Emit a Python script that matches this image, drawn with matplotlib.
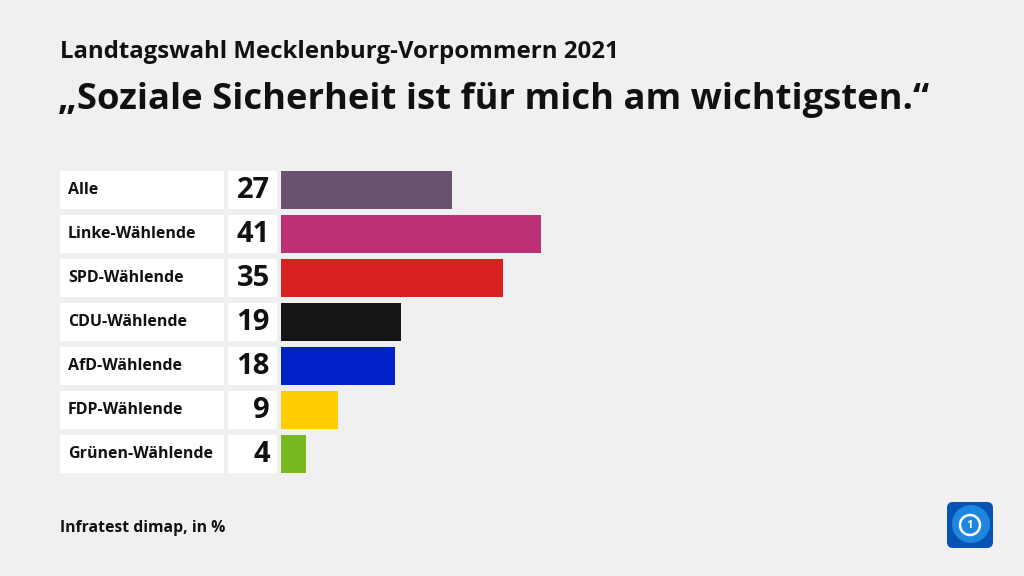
import matplotlib.pyplot as plt
from matplotlib.patches import Rectangle, FancyBboxPatch, Circle

plt.rcParams['font.family'] = ['Open Sans', 'DejaVu Sans']

# Daten
groups = ["Alle", "Linke-Wählende", "SPD-Wählende", "CDU-Wählende",
          "AfD-Wählende", "FDP-Wählende", "Grünen-Wählende"]
values = [27, 41, 35, 19, 18, 9, 4]
colors = ["#695270", "#be3075", "#d9201f", "#151515", "#0021c8", "#ffcc00", "#78b922"]

title = "Landtagswahl Mecklenburg-Vorpommern 2021"
subtitle = "„Soziale Sicherheit ist für mich am wichtigsten.“"
source = "Infratest dimap, in %"

W, H = 1024, 576
bg = "#f0f0f0"
fig = plt.figure(figsize=(W / 100, H / 100), dpi=100, facecolor=bg)

# Achse für die Balken: x in Prozent, y in Pixeln von oben
x0 = 281
px_per_unit = 6.33
ax = fig.add_axes([x0 / W, 0, (W - x0) / W, 1])
ax.set_xlim(0, (W - x0) / px_per_unit)
ax.set_ylim(H, 0)
ax.axis("off")

def px(xpix):
    return (xpix - x0) / px_per_unit

row_y = [190 + 44 * i for i in range(len(groups))]
bar_h = 38

ax.barh(row_y, values, height=bar_h, color=colors, left=0)

for y, g, v in zip(row_y, groups, values):
    ax.add_patch(Rectangle((px(60), y - bar_h / 2), px(224) - px(60), bar_h,
                           facecolor="white", edgecolor="none", clip_on=False))
    ax.add_patch(Rectangle((px(228), y - bar_h / 2), px(277) - px(228), bar_h,
                           facecolor="white", edgecolor="none", clip_on=False))
    ax.text(px(68), y, g, ha="left", va="center", fontsize=11.5,
            fontweight="bold", color="#111111", clip_on=False)
    ax.text(px(270), y + 1, str(v), ha="right", va="center", fontsize=21,
            fontweight="bold", color="#111111", clip_on=False)

fig.text(60 / W, 1 - 52 / H, title, ha="left", va="center",
         fontsize=17.3, fontweight="bold", color="#111111")
fig.text(58 / W, 1 - 100 / H, subtitle, ha="left", va="center",
         fontsize=26.2, fontweight="bold", color="#111111")
fig.text(60 / W, 1 - 528 / H, source, ha="left", va="center",
         fontsize=11.3, fontweight="bold", color="#111111")

# Logo unten rechts
logo_ax = fig.add_axes([945 / W, 1 - 550 / H, 50 / W, 50 / H])
logo_ax.set_xlim(0, 1)
logo_ax.set_ylim(0, 1)
logo_ax.axis("off")
logo_ax.add_patch(FancyBboxPatch((0.04, 0.04), 0.92, 0.92,
                                 boxstyle="round,pad=0,rounding_size=0.12",
                                 facecolor="#0653b3", edgecolor="none"))
logo_ax.add_patch(Circle((0.52, 0.52), 0.38, facecolor="#1f86e0", edgecolor="none"))
logo_ax.add_patch(Circle((0.5, 0.5), 0.2, facecolor="none", edgecolor="white", linewidth=1.8))
logo_ax.text(0.5, 0.49, "1", ha="center", va="center", fontsize=8,
             fontweight="bold", color="white")

fig.savefig("out.png", dpi=100, facecolor=bg)
